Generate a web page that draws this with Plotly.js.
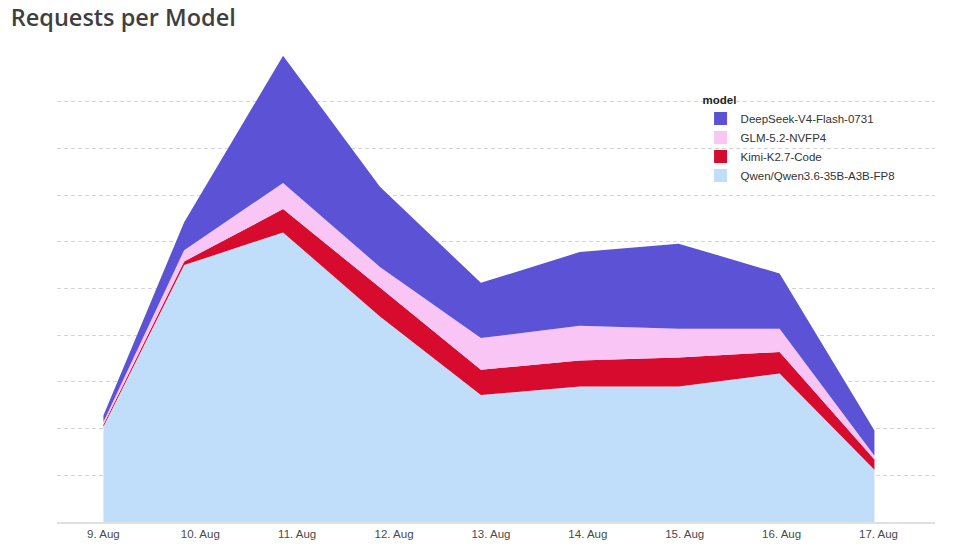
<!DOCTYPE html>
<html>
<head>
<meta charset="utf-8">
<script src="https://cdn.plot.ly/plotly-3.0.1.min.js"></script>
<style>
    html, body { margin: 0; padding: 0; background: #ffffff; }
    #grafico { width: 976px; height: 548px; }
</style>
</head>
<body>
<div id="grafico"></div>
<script>
// Dados (empilhados, de baixo para cima)
const dias = ['2025-08-09 00:00', '2025-08-09 20:00', '2025-08-10 20:30', '2025-08-11 20:30',
    '2025-08-12 21:30', '2025-08-13 22:00', '2025-08-14 22:30', '2025-08-15 23:30', '2025-08-16 23:00'];
const modelos = ['Qwen/Qwen3.6-35B-A3B-FP8', 'Kimi-K2.7-Code', 'GLM-5.2-NVFP4', 'DeepSeek-V4-Flash-0731'];
const qwen = [102, 275, 310, 220, 136, 145, 145, 159, 56];
const kimi = [2, 4, 25, 31, 27, 28, 31, 23, 11];
const glm = [3, 12, 28, 22, 34, 37, 31, 25, 4];
const deepseek = [7, 30, 136, 86, 59, 79, 91, 59, 27];
const cores = ['#c0ddf9', '#d60b2e', '#f8c5f5', '#5b52d6'];

const valores = [qwen, kimi, glm, deepseek];

var data = [];

//// Áreas empilhadas
for (let n = 0; n < modelos.length; n++) {
    data.push({
        x: dias,
        y: valores[n],
        type: 'scatter',
        mode: 'none',
        stackgroup: 'um',
        fillcolor: cores[n],
        name: modelos[n],
        showlegend: false,
        hoverinfo: 'skip'
    });
}

//// Entradas da legenda (quadrados)
for (let n = modelos.length - 1; n >= 0; n--) {
    data.push({
        x: [null],
        y: [null],
        type: 'scatter',
        mode: 'markers',
        marker: { symbol: 'square', size: 13, color: cores[n] },
        name: modelos[n]
    });
}

var layout = {
    width: 976,
    height: 548,
    paper_bgcolor: '#ffffff',
    plot_bgcolor: '#ffffff',
    margin: { l: 57, r: 41, t: 54, b: 26 },
    title: {
        text: 'Requests per Model',
        x: 0.011, xref: 'container', xanchor: 'left',
        y: 0.967, yref: 'container', yanchor: 'middle',
        font: { family: 'Open Sans', size: 23.5, weight: 600, color: '#3f3f3f' }
    },
    xaxis: {
        type: 'date',
        range: ['2025-08-08 12:30', '2025-08-17 14:00'],
        tick0: '2025-08-09',
        dtick: 86400000,
        tickformat: '%-d. %b',
        showgrid: false,
        zeroline: false,
        showline: true,
        linecolor: '#e0e0e0',
        linewidth: 2,
        ticks: '',
        tickfont: { family: 'Liberation Sans', size: 11.5, color: '#4a4a4a' }
    },
    yaxis: {
        range: [0, 501],
        tick0: 0,
        dtick: 50,
        showticklabels: false,
        showgrid: true,
        gridcolor: '#d4d4d4',
        griddash: '4px,3px',
        gridwidth: 1,
        zeroline: false,
        showline: false,
        ticks: ''
    },
    legend: {
        x: 0.733, xanchor: 'left',
        y: 0.925, yanchor: 'top',
        traceorder: 'normal',
        bgcolor: 'rgba(0,0,0,0)',
        font: { family: 'Liberation Sans', size: 11.5, color: '#333333' },
        title: { text: 'model', font: { family: 'Liberation Sans', size: 11.5, weight: 700, color: '#222222' } },
        tracegroupgap: 0
    },
    showlegend: true
};

Plotly.newPlot('grafico', data, layout, { displayModeBar: false, staticPlot: true });
</script>
</body>
</html>
